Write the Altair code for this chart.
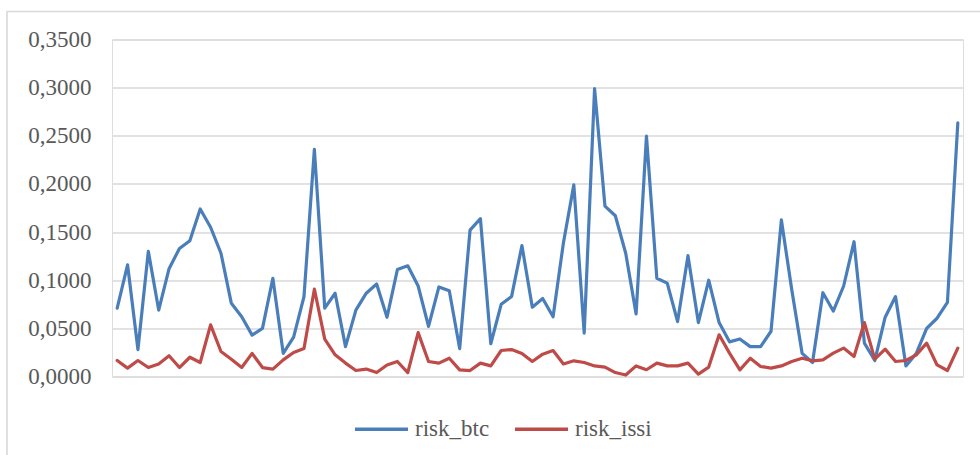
import altair as alt
import pandas as pd

# Risk series, one value per period
risk_btc = [
    0.071, 0.116, 0.028, 0.130, 0.069, 0.112, 0.133, 0.141, 0.174, 0.155,
    0.128, 0.076, 0.062, 0.043, 0.050, 0.102, 0.024, 0.041, 0.083, 0.236,
    0.071, 0.0865, 0.031, 0.069, 0.0865, 0.096, 0.0615, 0.111, 0.115, 0.094,
    0.052, 0.093, 0.089, 0.029, 0.152, 0.164, 0.034, 0.075, 0.083, 0.136,
    0.072, 0.081, 0.062, 0.139, 0.199, 0.045, 0.299, 0.177, 0.167, 0.128,
    0.065, 0.2497, 0.102, 0.097, 0.057, 0.1255, 0.056, 0.100, 0.056, 0.036,
    0.039, 0.031, 0.031, 0.047, 0.1626, 0.090, 0.024, 0.0145, 0.087, 0.068,
    0.094, 0.140, 0.0346, 0.0166, 0.0616, 0.083, 0.011, 0.024, 0.050, 0.0605,
    0.077, 0.2635,
]
risk_issi = [
    0.0166, 0.0087, 0.0166, 0.0093, 0.013, 0.0215, 0.0093, 0.020, 0.0145, 0.0536,
    0.026, 0.018, 0.0093, 0.024, 0.0093, 0.0077, 0.0173, 0.025, 0.029, 0.0907,
    0.0388, 0.0225, 0.0139, 0.0062, 0.0077, 0.0041, 0.012, 0.0156, 0.0041, 0.0456,
    0.0156, 0.0139, 0.019, 0.0069, 0.0062, 0.0139, 0.011, 0.027, 0.028, 0.024,
    0.0156, 0.0232, 0.027, 0.013, 0.0163, 0.0145, 0.011, 0.0098, 0.0041, 0.0015,
    0.011, 0.007, 0.0139, 0.011, 0.011, 0.0139, 0.0025, 0.0098, 0.0433, 0.0243,
    0.0069, 0.019, 0.0104, 0.0087, 0.011, 0.0156, 0.019, 0.0163, 0.0173, 0.0243,
    0.0295, 0.0207, 0.056, 0.018, 0.0284, 0.0156, 0.0166, 0.0225, 0.0346, 0.012,
    0.0062, 0.0295,
]
series_names = ["risk_btc", "risk_issi"]
series_colors = ["#4a7ebb", "#be4b48"]
y_ticks = [0.0, 0.05, 0.10, 0.15, 0.20, 0.25, 0.30, 0.35]

periods = list(range(1, len(risk_btc) + 1))
df = pd.concat([
    pd.DataFrame({"period": periods, "value": risk_btc, "series": series_names[0]}),
    pd.DataFrame({"period": periods, "value": risk_issi, "series": series_names[1]}),
])

serif = "Liberation Serif"
grey_text = "#595959"
grid_grey = "#d9d9d9"

lines = alt.Chart(df).mark_line(strokeWidth=3.2, strokeJoin="round", strokeCap="round").encode(
    x=alt.X("period:O", axis=None, scale=alt.Scale(type="point", padding=0.5)),
    y=alt.Y(
        "value:Q",
        scale=alt.Scale(domain=[0, 0.35], nice=False, zero=True),
        axis=alt.Axis(
            values=y_ticks,
            title=None,
            domain=False,
            ticks=False,
            grid=True,
            gridColor=grid_grey,
            gridWidth=1.6,
            labelFont=serif,
            labelFontSize=23,
            labelColor=grey_text,
            labelPadding=21,
            labelExpr="replace(format(datum.value, '.4f'), '.', ',')",
        ),
    ),
    color=alt.Color(
        "series:N",
        scale=alt.Scale(domain=series_names, range=series_colors),
        legend=alt.Legend(
            title=None,
            orient="none",
            direction="horizontal",
            legendX=241,
            legendY=361,
            symbolType="stroke",
            symbolSize=2809,
            symbolStrokeWidth=3.5,
            labelFont=serif,
            labelFontSize=23,
            labelColor=grey_text,
            labelOffset=5,
            columnPadding=18,
        ),
    ),
    order="period:O",
)

# outer frame around the chart area
frame = alt.Chart(pd.DataFrame({"k": [0]})).mark_rect(
    fill=None, stroke=grid_grey, strokeWidth=1.6
).encode(
    x=alt.value(-105), x2=alt.value(880), y=alt.value(-28), y2=alt.value(430)
)

chart = alt.layer(frame, lines).properties(
    width=851,
    height=337,
    autosize=alt.AutoSizeParams(type="none"),
    padding={"left": 112, "top": 39.5, "right": 17, "bottom": 78},
).configure_view(stroke=None).configure(background="white")

chart.save("out.html", embed_options={"renderer": "svg", "actions": False})
